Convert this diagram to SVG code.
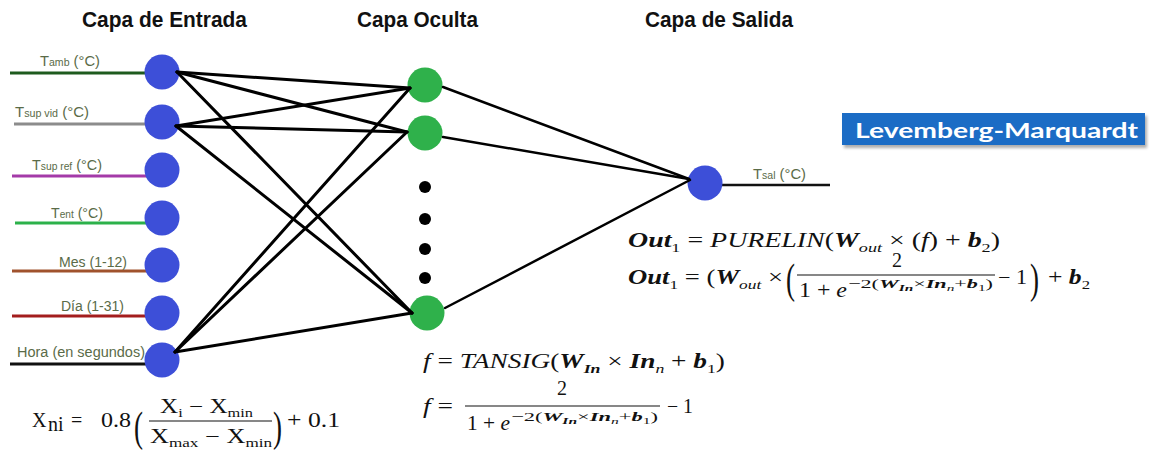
<svg xmlns="http://www.w3.org/2000/svg" width="1156" height="451" viewBox="0 0 1156 451">
<defs>
<style>
.title{font-family:"Liberation Sans",Arial,sans-serif;font-weight:bold;font-size:22px;fill:#111}
.lbl{font-family:"Liberation Sans",Arial,sans-serif;font-size:14px;fill:#5a6b48}
.s{font-size:10px}
.in{fill:#3d4fd8}
.hid{fill:#2fb14b}
.dot{fill:#000}
.c1{stroke:#000;stroke-width:3;fill:none;stroke-linecap:round}
.c2{stroke:#000;stroke-width:2.5;fill:none;stroke-linecap:round}
.m{font-family:"Liberation Serif","DejaVu Serif",serif;font-size:20px;fill:#111}
.e{font-family:"Liberation Serif","DejaVu Serif",serif;font-size:13px;fill:#111}
.bi{font-weight:bold;font-style:italic}
.it{font-style:italic}
.sub{font-size:13px}
.ssub{font-size:9px}
.bar{stroke:#111;stroke-width:1.2}
.big{font-family:"Liberation Serif","DejaVu Serif",serif;font-size:43px;fill:#111}
</style>
<filter id="sh" x="-5%" y="-30%" width="110%" height="160%"><feGaussianBlur stdDeviation="1.5"/></filter>
</defs>
<rect width="1156" height="451" fill="#fff"/>

<g id="titles">
<text class="title" x="82" y="27" textLength="165" lengthAdjust="spacingAndGlyphs">Capa de Entrada</text>
<text class="title" x="357" y="27" textLength="121" lengthAdjust="spacingAndGlyphs">Capa Oculta</text>
<text class="title" x="645" y="27" textLength="148" lengthAdjust="spacingAndGlyphs">Capa de Salida</text>
</g>

<g id="input-1">
<line x1="10" y1="73" x2="162" y2="73" stroke="#1e5b1e" stroke-width="3"/>
<text class="lbl" x="40" y="66" textLength="60" lengthAdjust="spacingAndGlyphs">T<tspan class="s">amb</tspan> (°C)</text>
<circle class="in" cx="162" cy="72" r="17.5"/>
</g>
<g id="input-2">
<line x1="14" y1="124" x2="162" y2="124" stroke="#8c8c8c" stroke-width="3"/>
<text class="lbl" x="15" y="117" textLength="74" lengthAdjust="spacingAndGlyphs">T<tspan class="s">sup vid</tspan> (°C)</text>
<circle class="in" cx="162" cy="122" r="17.5"/>
</g>
<g id="input-3">
<line x1="12" y1="176" x2="162" y2="176" stroke="#a43aa8" stroke-width="3"/>
<text class="lbl" x="32" y="170" textLength="70" lengthAdjust="spacingAndGlyphs">T<tspan class="s">sup ref</tspan> (°C)</text>
<circle class="in" cx="162" cy="170" r="17.5"/>
</g>
<g id="input-4">
<line x1="15" y1="223" x2="162" y2="223" stroke="#2cb14a" stroke-width="3"/>
<text class="lbl" x="51" y="218" textLength="52" lengthAdjust="spacingAndGlyphs">T<tspan class="s">ent</tspan> (°C)</text>
<circle class="in" cx="162" cy="218" r="17.5"/>
</g>
<g id="input-5">
<line x1="12" y1="271" x2="162" y2="271" stroke="#a0522d" stroke-width="3"/>
<text class="lbl" x="59" y="267" textLength="68" lengthAdjust="spacingAndGlyphs">Mes (1-12)</text>
<circle class="in" cx="162" cy="265" r="17.5"/>
</g>
<g id="input-6">
<line x1="12" y1="316" x2="162" y2="316" stroke="#a31d1d" stroke-width="3"/>
<text class="lbl" x="61" y="311" textLength="63" lengthAdjust="spacingAndGlyphs">Día (1-31)</text>
<circle class="in" cx="162" cy="313" r="17.5"/>
</g>
<g id="input-7">
<line x1="10" y1="364" x2="162" y2="364" stroke="#111" stroke-width="3"/>
<text class="lbl" x="17" y="357" textLength="128" lengthAdjust="spacingAndGlyphs">Hora (en segundos)</text>
<circle class="in" cx="162" cy="360" r="17.5"/>
</g>

<g id="hidden-1"><circle class="hid" cx="425" cy="85" r="17.5"/></g>
<g id="hidden-2"><circle class="hid" cx="425" cy="133" r="17.5"/></g>
<g id="hidden-ellipsis">
<circle class="dot" cx="425" cy="187" r="6"/>
<circle class="dot" cx="425" cy="219" r="6"/>
<circle class="dot" cx="425" cy="249" r="6"/>
<circle class="dot" cx="425" cy="278" r="6"/>
</g>
<g id="hidden-n"><circle class="hid" cx="427" cy="313" r="17.5"/></g>

<g id="output">
<line x1="705" y1="185" x2="830" y2="185" stroke="#111" stroke-width="2.5"/>
<circle class="in" cx="705" cy="183" r="17.5"/>
<text class="lbl" x="753" y="179" textLength="53" lengthAdjust="spacingAndGlyphs">T<tspan class="s">sal</tspan> (°C)</text>
</g>

<g id="connectors">
<line class="c1" x1="177" y1="72" x2="410" y2="88"/>
<line class="c1" x1="177" y1="72" x2="407" y2="132"/>
<line class="c1" x1="177" y1="72" x2="412" y2="313"/>
<line class="c1" x1="176" y1="126" x2="410" y2="88"/>
<line class="c1" x1="176" y1="126" x2="407" y2="132"/>
<line class="c1" x1="176" y1="126" x2="412" y2="313"/>
<line class="c1" x1="175" y1="352" x2="410" y2="88"/>
<line class="c1" x1="175" y1="352" x2="407" y2="132"/>
<line class="c1" x1="175" y1="352" x2="412" y2="313"/>
<line class="c2" x1="443" y1="87" x2="689" y2="179"/>
<line class="c2" x1="443" y1="137" x2="689" y2="179"/>
<line class="c2" x1="445" y1="308" x2="690" y2="180"/>
</g>

<g id="algorithm">
<rect x="844" y="116" width="303" height="32" fill="#777" opacity="0.6" filter="url(#sh)"/>
<rect x="842" y="113" width="303" height="32" fill="#1b6cc5"/>
<text x="855" y="138" font-family="Lato,'Open Sans',sans-serif" font-weight="bold" font-size="21" fill="#fff" textLength="283" lengthAdjust="spacingAndGlyphs">Levemberg-Marquardt</text>
</g>

<g id="formula-normalization">
<text class="m" x="32" y="427" font-size="21">X</text>
<text class="m" x="48" y="431" font-size="14">ni</text>
<text class="m" x="71" y="427">=</text>
<text class="m" x="101" y="427" textLength="30" lengthAdjust="spacingAndGlyphs">0.8</text>
<text class="big" x="134" y="441" font-size="42" textLength="9" lengthAdjust="spacingAndGlyphs">(</text>
<text class="m" x="160" y="413" font-size="18" textLength="93" lengthAdjust="spacingAndGlyphs">X<tspan class="sub" dy="4">i</tspan><tspan dy="-4"> − X</tspan><tspan class="sub" dy="4">min</tspan></text>
<line class="bar" x1="149" y1="421" x2="272" y2="421"/>
<text class="m" x="150" y="443" font-size="18" textLength="122" lengthAdjust="spacingAndGlyphs">X<tspan class="sub" dy="4">max</tspan><tspan dy="-4"> − X</tspan><tspan class="sub" dy="4">min</tspan></text>
<text class="big" x="273" y="441" font-size="42" textLength="9" lengthAdjust="spacingAndGlyphs">)</text>
<text class="m" x="287" y="427" textLength="53" lengthAdjust="spacingAndGlyphs">+ 0.1</text>
</g>

<g id="formula-hidden">
<text class="m" x="423" y="368" textLength="302" lengthAdjust="spacingAndGlyphs"><tspan class="it">f</tspan> = <tspan class="it">TANSIG</tspan>(<tspan class="bi">W</tspan><tspan class="sub bi" dy="5">In</tspan><tspan dy="-5"> × </tspan><tspan class="bi">In</tspan><tspan class="sub it" dy="5">n</tspan><tspan dy="-5"> + </tspan><tspan class="bi">b</tspan><tspan class="sub" dy="5">1</tspan><tspan dy="-5">)</tspan></text>
<text class="m" x="423" y="413" textLength="30" lengthAdjust="spacingAndGlyphs"><tspan class="it">f</tspan> =</text>
<text class="m" x="557" y="395">2</text>
<line class="bar" x1="465" y1="406" x2="660" y2="406"/>
<text class="m" x="467" y="430" textLength="43" lengthAdjust="spacingAndGlyphs">1 + <tspan class="it">e</tspan></text>
<text class="e" x="511" y="421" textLength="147" lengthAdjust="spacingAndGlyphs">−2(<tspan class="bi">W</tspan><tspan class="ssub bi" dy="3">In</tspan><tspan dy="-3">×</tspan><tspan class="bi">In</tspan><tspan class="ssub it" dy="3">n</tspan><tspan dy="-3">+</tspan><tspan class="bi">b</tspan><tspan class="ssub" dy="3">1</tspan><tspan dy="-3">)</tspan></text>
<text class="m" x="667" y="413" textLength="26" lengthAdjust="spacingAndGlyphs">− 1</text>
</g>

<g id="formula-output">
<text class="m" x="628" y="247" textLength="372" lengthAdjust="spacingAndGlyphs"><tspan class="bi">Out</tspan><tspan class="sub" dy="5">1</tspan><tspan dy="-5"> = </tspan><tspan class="it">PURELIN</tspan>(<tspan class="bi">W</tspan><tspan class="sub it" dy="5">out</tspan><tspan dy="-5"> × (</tspan><tspan class="it">f</tspan>) + <tspan class="bi">b</tspan><tspan class="sub" dy="5">2</tspan><tspan dy="-5">)</tspan></text>
<text class="m" x="628" y="284" textLength="155" lengthAdjust="spacingAndGlyphs"><tspan class="bi">Out</tspan><tspan class="sub" dy="5">1</tspan><tspan dy="-5"> = (</tspan><tspan class="bi">W</tspan><tspan class="sub it" dy="5">out</tspan><tspan dy="-5"> ×</tspan></text>
<text class="big" x="786" y="293" textLength="9" lengthAdjust="spacingAndGlyphs">(</text>
<text class="m" x="892" y="267">2</text>
<line class="bar" x1="797" y1="275" x2="995" y2="275"/>
<text class="m" x="799" y="297" textLength="48" lengthAdjust="spacingAndGlyphs">1 + <tspan class="it">e</tspan></text>
<text class="e" x="848" y="288" textLength="145" lengthAdjust="spacingAndGlyphs">−2(<tspan class="bi">W</tspan><tspan class="ssub bi" dy="3">In</tspan><tspan dy="-3">×</tspan><tspan class="bi">In</tspan><tspan class="ssub it" dy="3">n</tspan><tspan dy="-3">+</tspan><tspan class="bi">b</tspan><tspan class="ssub" dy="3">1</tspan><tspan dy="-3">)</tspan></text>
<text class="m" x="998" y="284" textLength="29" lengthAdjust="spacingAndGlyphs">− 1</text>
<text class="big" x="1030" y="293" textLength="9" lengthAdjust="spacingAndGlyphs">)</text>
<text class="m" x="1048" y="284" textLength="42" lengthAdjust="spacingAndGlyphs">+ <tspan class="bi">b</tspan><tspan class="sub" dy="5">2</tspan></text>
</g>
</svg>
